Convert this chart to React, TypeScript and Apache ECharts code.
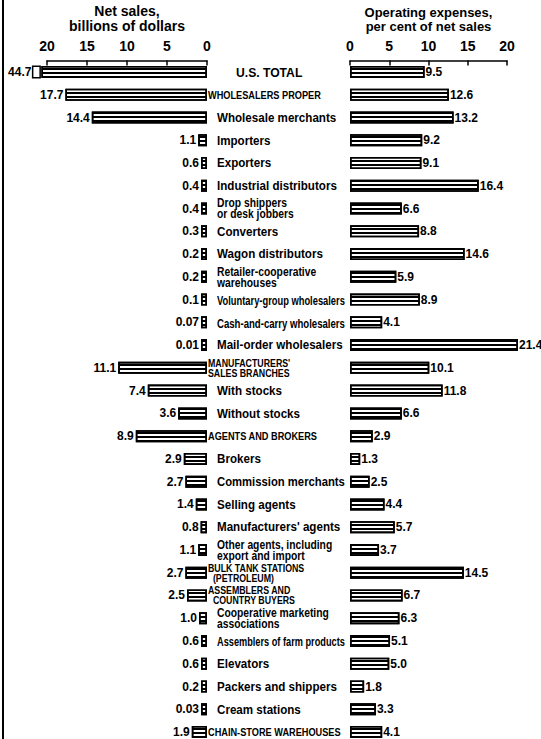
import React, { useEffect, useRef } from "react";
import * as echarts from "echarts";

const categories = [
  "U.S. TOTAL",
  "WHOLESALERS PROPER",
  "Wholesale merchants",
  "Importers",
  "Exporters",
  "Industrial distributors",
  "Drop shippers\nor desk jobbers",
  "Converters",
  "Wagon distributors",
  "Retailer-cooperative\nwarehouses",
  "Voluntary-group wholesalers",
  "Cash-and-carry wholesalers",
  "Mail-order wholesalers",
  "MANUFACTURERS'\nSALES BRANCHES",
  "With stocks",
  "Without stocks",
  "AGENTS AND BROKERS",
  "Brokers",
  "Commission merchants",
  "Selling agents",
  "Manufacturers' agents",
  "Other agents, including\nexport and import",
  "BULK TANK STATIONS\n  (PETROLEUM)",
  "ASSEMBLERS AND\n  COUNTRY BUYERS",
  "Cooperative marketing\nassociations",
  "Assemblers of farm products",
  "Elevators",
  "Packers and shippers",
  "Cream stations",
  "CHAIN-STORE WAREHOUSES",
];

const netSales = [
  44.7, 17.7, 14.4, 1.1, 0.6, 0.4, 0.4, 0.3, 0.2, 0.2, 0.1, 0.07, 0.01, 11.1, 7.4, 3.6,
  8.9, 2.9, 2.7, 1.4, 0.8, 1.1, 2.7, 2.5, 1.0, 0.6, 0.6, 0.2, 0.03, 1.9,
];

const opExpenses = [
  9.5, 12.6, 13.2, 9.2, 9.1, 16.4, 6.6, 8.8, 14.6, 5.9, 8.9, 4.1, 21.4, 10.1, 11.8, 6.6,
  2.9, 1.3, 2.5, 4.4, 5.7, 3.7, 14.5, 6.7, 6.3, 5.1, 5.0, 1.8, 3.3, 4.1,
];

const salesTicks = [0, 5, 10, 15, 20];
const opexTicks = [0, 5, 10, 15, 20];

const totalRows = [0];
const headingRows = [1, 13, 16, 22, 23, 29];

// where the off-scale U.S. total bar is broken
const SALES_BREAK = 20.7;

const FONT = '"Liberation Sans", Arial, sans-serif';

const stripe = {
  symbol: "rect",
  symbolSize: 1,
  dashArrayX: [[10, 0]],
  dashArrayY: [1.1, 1.6],
  rotation: 0,
  color: "#000",
  backgroundColor: "#fff",
};

const borderLine = {
  type: "line",
  shape: { x1: 3, y1: 0, x2: 3, y2: 739 },
  style: { stroke: "#000", lineWidth: 2 },
};

export default function App() {
  const ref = useRef<HTMLDivElement>(null);

  useEffect(() => {
    document.body.style.margin = "0";
    const chart = echarts.init(ref.current!, null, { renderer: "svg" });

    const fmtSales = (v: number) => (v < 0.1 ? v.toFixed(2) : v.toFixed(1));

    const barStyle = {
      color: "#fff",
      borderColor: "#000",
      borderWidth: 1.6,
      decal: stripe,
    };

    const axisCommon = {
      type: "value",
      position: "top",
      min: 0,
      max: 20,
      interval: 5,
      nameLocation: "middle",
      nameGap: 25,
      axisLine: { show: true, lineStyle: { color: "#000", width: 1.5 } },
      axisTick: { show: true, inside: true, length: 5, lineStyle: { color: "#000", width: 1.5 } },
      splitLine: { show: false },
    };

    const option: any = {
      animation: false,
      textStyle: { fontFamily: FONT, color: "#000" },
      graphic: [borderLine],
      grid: [
        { left: 47, width: 160, top: 60.6, height: 682.8, outerBoundsMode: "none", containLabel: false },
        { left: 350, width: 157, top: 60.6, height: 682.8, outerBoundsMode: "none", containLabel: false },
      ],
      xAxis: [
        {
          ...axisCommon,
          gridIndex: 0,
          inverse: true,
          name: "Net sales,\nbillions of dollars",
          nameTextStyle: { fontSize: 14, fontWeight: "bold", lineHeight: 15, color: "#000", fontFamily: FONT },
          axisLabel: {
            margin: 8,
            fontSize: 14,
            fontWeight: "bold",
            color: "#000",
            fontFamily: FONT,
            formatter: (v: number) => (salesTicks.includes(v) ? String(v) : ""),
          },
        },
        {
          ...axisCommon,
          gridIndex: 1,
          name: "Operating expenses,\nper cent of net sales",
          nameTextStyle: { fontSize: 13, fontWeight: "bold", lineHeight: 14, color: "#000", fontFamily: FONT },
          axisLabel: {
            margin: 8,
            fontSize: 14,
            fontWeight: "bold",
            color: "#000",
            fontFamily: FONT,
            formatter: (v: number) => (opexTicks.includes(v) ? String(v) : ""),
          },
        },
      ],
      yAxis: [
        {
          gridIndex: 0,
          type: "category",
          data: categories,
          inverse: true,
          position: "right",
          axisLine: { show: false },
          axisTick: { show: false },
          axisLabel: { show: false },
        },
        {
          gridIndex: 1,
          type: "category",
          data: categories,
          inverse: true,
          axisLine: { show: false },
          axisTick: { show: false },
          axisLabel: { show: false },
        },
      ],
      series: [
        {
          type: "bar",
          xAxisIndex: 0,
          yAxisIndex: 0,
          barWidth: 12,
          barMinHeight: 6,
          clip: false,
          data: netSales.map((v) => Math.min(v, SALES_BREAK)),
          itemStyle: barStyle,
          label: {
            show: true,
            position: "left",
            distance: 2,
            fontSize: 12,
            fontWeight: "bold",
            color: "#000",
            fontFamily: FONT,
            formatter: (p: any) => {
              const v = netSales[p.dataIndex];
              const txt = fmtSales(v);
              return v > SALES_BREAK ? `{v|${txt}}{b|}` : txt;
            },
            rich: {
              v: { fontSize: 12, fontWeight: "bold", fontFamily: FONT, color: "#000", padding: [0, 2, 0, 0] },
              b: {
                width: 6,
                height: 10,
                borderColor: "#000",
                borderWidth: 1.5,
                backgroundColor: "#fff",
              },
            },
          },
        },
        {
          type: "bar",
          xAxisIndex: 1,
          yAxisIndex: 1,
          barWidth: 12,
          clip: false,
          data: opExpenses,
          itemStyle: barStyle,
          label: {
            show: true,
            position: "right",
            distance: 1,
            fontSize: 12,
            fontWeight: "bold",
            color: "#000",
            fontFamily: FONT,
            formatter: (p: any) => opExpenses[p.dataIndex].toFixed(1),
          },
        },
      ],
    };

    chart.setOption(option);

    // Category names: placed on the category axis' own scale, lettered narrow like the original
    const canvas = document.createElement("canvas");
    const ctx = canvas.getContext("2d")!;
    const measure = (t: string, size: number) => {
      ctx.font = `bold ${size}px ${FONT}`;
      return ctx.measureText(t).width;
    };
    const x0 = chart.convertToPixel({ xAxisIndex: 0 }, 0) as number;
    const texts = categories.map((cat, i) => {
      const lines = cat.split("\n");
      const multi = lines.length > 1;
      let size: number;
      let maxW: number;
      let maxScale: number;
      let pad: number;
      let lh: number;
      if (totalRows.includes(i)) {
        size = 13.5;
        maxW = 70;
        maxScale = 0.9;
        pad = 29;
        lh = 15;
      } else if (headingRows.includes(i)) {
        size = multi ? 11 : 11.5;
        maxW = 138;
        maxScale = 0.8;
        pad = 1;
        lh = multi ? 10 : 13;
      } else {
        size = multi ? 12 : 13.5;
        maxW = 128;
        maxScale = 0.86;
        pad = 10;
        lh = multi ? 11 : 15;
      }
      const w = Math.max(...lines.map((l) => measure(l, size)));
      const sx = Math.min(maxScale, maxW / w);
      const y = chart.convertToPixel({ yAxisIndex: 0 }, i) as number;
      return {
        type: "text",
        x: x0 + pad,
        y,
        scaleX: sx,
        silent: true,
        style: {
          text: cat,
          fontSize: size,
          fontWeight: "bold",
          fontFamily: FONT,
          fill: "#000",
          align: "left",
          verticalAlign: "middle",
          lineHeight: lh,
        },
      };
    });
    chart.setOption({ graphic: [borderLine, ...texts] });

    return () => chart.dispose();
  }, []);

  return <div ref={ref} style={{ width: 541, height: 739 }} />;
}
